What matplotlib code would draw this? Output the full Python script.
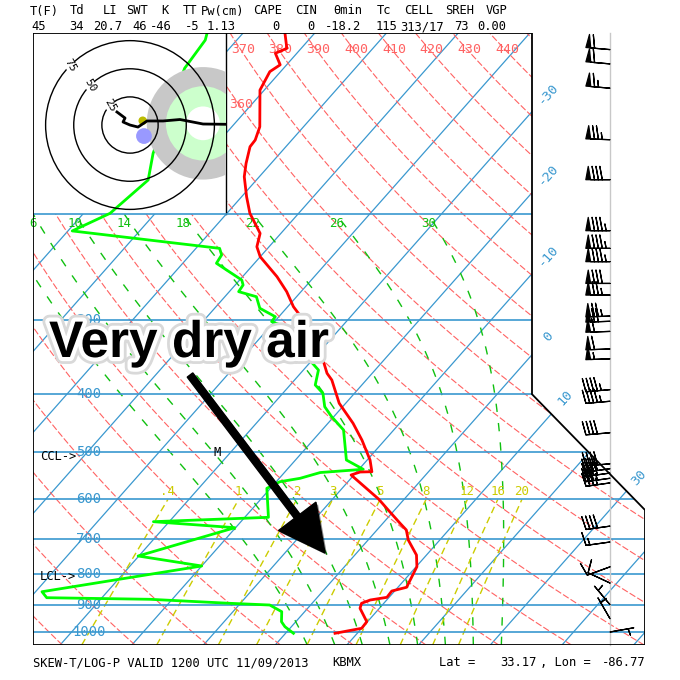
import numpy as np
import matplotlib
matplotlib.use("Agg")
import matplotlib.pyplot as plt
from matplotlib.patches import Polygon, Rectangle, Circle, FancyArrow
import matplotlib.patheffects as pe

# ------------------------------------------------------------------ data
temp_p = [99.6, 105.5, 107.5, 112.4, 115.4, 123.9, 142.7, 150.2, 154.1, 164.3, 173.0,
          186.9, 199.2, 215.2, 226.6, 235.5, 254.3, 269.4, 285.5, 294.8, 322.1, 350.6,
          369.0, 378.7, 414.2, 447.4, 477.2, 515.4, 539.2, 539.8, 546.0, 599.0, 624.9,
          657.8, 675.0, 701.5, 743.3, 777.5, 841.7, 853.9, 874.9, 884.0, 895.3, 912.7,
          961.1, 985.8, 1005.0]
temp_c = [-74.1, -72.0, -73.0, -70.9, -71.5, -70.6, -66.1, -65.1, -65.0, -63.5, -62.1,
          -59.3, -56.8, -52.9, -51.7, -50.0, -45.2, -42.0, -39.2, -37.3, -32.7, -28.5,
          -26.3, -24.8, -20.9, -16.5, -13.2, -9.6, -7.9, -9.5, -10.4, -3.6, -0.9,
          2.4, 4.1, 5.6, 8.6, 10.1, 11.2, 9.6, 9.7, 7.7, 6.9, 7.3,
          9.9, 10.0, 6.9]

dwpt_p = [99.5, 102.2, 113.9, 158.1, 175.2, 199.2, 213.2, 228.0, 233.9, 241.5, 257.6,
          262.6, 269.4, 274.7, 287.2, 296.7, 302.4, 305.2, 364.4, 386.0, 398.6, 419.7,
          436.2, 459.1, 515.4, 534.2, 540.9, 553.1, 560.4, 574.8, 642.8, 653.7, 669.0,
          746.1, 775.4, 856.2, 876.2, 881.6, 895.3, 901.2, 924.7, 961.1, 979.8, 1005.0]
dwpt_c = [-85.0, -84.4, -83.8, -77.7, -75.1, -76.3, -79.4, -56.7, -55.6, -55.3, -49.7,
          -48.9, -48.7, -45.6, -43.7, -40.5, -40.4, -39.2, -27.9, -26.5, -24.4, -22.5,
          -20.3, -17.0, -12.9, -9.4, -15.0, -17.1, -19.5, -20.5, -16.7, -32.2, -20.1,
          -30.1, -20.0, -39.1, -37.7, -23.1, -11.5, -5.7, -3.2, -2.0, -0.9, 1.1]

wind_p = [106, 112, 123, 150, 175, 213, 228, 240, 261, 273, 296, 302, 314, 336, 349,
          393, 411, 464, 523, 533, 542, 553, 563, 665, 707, 778, 828, 900, 950, 1000]
wind_dir = [275, 275, 275, 272, 270, 270, 270, 270, 270, 270, 268, 268, 268, 268, 268,
            265, 265, 265, 265, 262, 262, 262, 262, 262, 262, 250, 295, 320, 330, 80]
wind_spd = [60, 60, 65, 75, 80, 85, 85, 85, 80, 75, 75, 70, 60, 60, 55,
            45, 45, 40, 40, 40, 40, 35, 35, 40, 15, 10, 10, 5, 5, 5]

hodo_u = [-11.6, -4.4, -6.2, 0.0, 7.1, 15.1, 29.3, 44.4, 64.9, 88.9]
hodo_v = [11.6, 6.2, 2.7, 0.0, -1.8, 3.6, 3.6, 4.9, 0.9, 0.6]
hodo_rings = [25, 50, 75]
storm_center = (64.9, 1.5)
storm_radii = [50, 33, 15]
mean_wind = (11.3, 3.8)
bunkers = (12.4, -9.8)

isobars = [1000, 900, 800, 700, 600, 500, 400, 300, 200]
isobar_labels = ["1000", "900", "800", "700", "600", "500", "400", "300"]
isotherms = list(range(-110, 51, 10))
isotherm_labels = [-30, -20, -10, 0, 10, 30]
dry_thetas = list(range(230, 461, 10))
dry_labels = [360, 370, 380, 390, 400, 410, 420, 430, 440]
moist_thetaw = [2, 6, 10, 14, 18, 22, 26, 30]
moist_labels = [6, 10, 14, 18, 22, 26, 30]
mix_ratios = [0.4, 1, 2, 3, 5, 8, 12, 16, 20]
mix_labels = [".4", "1", "2", "3", "5", "8", "12", "16", "20"]

hdr_names = ["T(F)", "Td", "LI", "SWT", "K", "TT", "Pw(cm)", "CAPE", "CIN", "θmin",
             "Tc", "CELL", "SREH", "VGP"]
hdr_values = ["45", "34", "20.7", "46", "-46", "-5", "1.13", "0", "0", "-18.2",
              "115", "313/17", "73", "0.00"]

# ------------------------------------------------------------------ geometry / style
W = H = 680.0
def fx(px): return px / W
def fy(py): return 1.0 - py / H

PX_PER_C = 7.17
PX_PER_LN = 259.5
X0_PX = 286.7           # pixel of 0 C at 1000 hPa
SKEW = 229.6 / PX_PER_C
XMIN = (33 - X0_PX) / PX_PER_C
XMAX = (645 - X0_PX) / PX_PER_C
XMID = (532 - X0_PX) / PX_PER_C
XBOX = (226 - X0_PX) / PX_PER_C
XWIND = (610 - X0_PX) / PX_PER_C
XPLAB = (89 - X0_PX) / PX_PER_C
PBOT = 1000 * np.exp(13 / PX_PER_LN)
PTOP = 1000 * np.exp(-599 / PX_PER_LN)
PDIAG = 1000 * np.exp(-122 / PX_PER_LN)

BLUE = "#3a98cf"
SALMON = "#ff6262"
MGREEN = "#10c010"
YEL = "#cccc00"
MONO = "DejaVu Sans Mono"

def skx(T, p):
    return np.asarray(T, float) + SKEW * np.log(1000.0 / np.asarray(p, float))

def mix_td(w, p):
    e = w * p / (622.0 + w)
    l = np.log(e / 6.112)
    return 243.5 * l / (17.67 - l)

Rd, Cp, Lv, eps = 287.04, 1005.7, 2.501e6, 0.622
def dT_dlnp(T, p):
    es = 6.112 * np.exp(17.67 * (T - 273.15) / (T - 29.65))
    rs = eps * es / (p - es)
    return (Rd * T + Lv * rs) / (Cp + Lv * Lv * rs * eps / (Rd * T * T))

def moist(tw, p_end, n=150):
    lnp = np.linspace(np.log(1000.0), np.log(p_end), n)
    T = np.empty(n); T[0] = tw + 273.15
    for i in range(n - 1):
        h = lnp[i + 1] - lnp[i]
        p0 = np.exp(lnp[i]); ph = np.exp(lnp[i] + h / 2); p1 = np.exp(lnp[i + 1])
        k1 = dT_dlnp(T[i], p0)
        k2 = dT_dlnp(T[i] + h / 2 * k1, ph)
        k3 = dT_dlnp(T[i] + h / 2 * k2, ph)
        k4 = dT_dlnp(T[i] + h * k3, p1)
        T[i + 1] = T[i] + h / 6 * (k1 + 2 * k2 + 2 * k3 + k4)
    return np.exp(lnp), T - 273.15

# ------------------------------------------------------------------ figure
fig = plt.figure(figsize=(6.8, 6.8), dpi=100)
fig.patch.set_facecolor("white")
ax = fig.add_axes([fx(33), fy(645), 612 / W, 612 / H])
ax.set_yscale("log")
ax.set_xlim(XMIN, XMAX)
ax.set_ylim(PBOT, PTOP)
ax.axis("off")

frame = Polygon([(XMIN, PBOT), (XMAX, PBOT), (XMAX, PDIAG), (XMID, 400), (XMID, PTOP),
                 (XMIN, PTOP)], closed=True, fill=False, edgecolor="black", lw=1.3,
                zorder=10)
ax.add_patch(frame)

def clipped(lines):
    for l in lines:
        l.set_clip_path(frame)

# isotherms
for T in isotherms:
    pp = np.array([PBOT, PTOP])
    clipped(ax.plot(skx(T, pp), pp, color=BLUE, lw=0.9, zorder=1))
# dry adiabats
for th in dry_thetas:
    pp = np.geomspace(PBOT, PTOP, 120)
    tt = th * (pp / 1000.0) ** 0.2857 - 273.15
    clipped(ax.plot(skx(tt, pp), pp, color=SALMON, lw=0.8, ls=(0, (6, 2)), zorder=1))
# moist adiabats
for tw in moist_thetaw:
    pu, tu = moist(tw, 200.0)
    pd, td = moist(tw, PBOT, 20)
    pp = np.concatenate([pd[::-1], pu[1:]])
    tt = np.concatenate([td[::-1], tu[1:]])
    clipped(ax.plot(skx(tt, pp), pp, color=MGREEN, lw=1.0, ls=(0, (6, 8)), zorder=1))
    if tw in moist_labels:
        ax.text(skx(tu[-1], 200.0), 207, str(tw), color=MGREEN, fontsize=9,
                family=MONO, ha="center", va="center", zorder=3)
# mixing ratio lines
for w, lab in zip(mix_ratios, mix_labels):
    pp = np.geomspace(PBOT, 600.0, 40)
    clipped(ax.plot(skx(mix_td(w, pp), pp), pp, color=YEL, lw=1.0, ls=(0, (5, 3)),
                    zorder=1))
    ax.text(skx(mix_td(w, 600.0), 600.0), 583, lab, color=YEL, fontsize=9, family=MONO,
            ha="center", va="center", zorder=3)

# white hodograph box over the grid
ax.add_patch(Rectangle((XMIN, PTOP), XBOX - XMIN, 200 - PTOP, facecolor="white",
                       edgecolor="none", zorder=2))
ax.plot([XBOX, XBOX], [200, PTOP], color="black", lw=1.0, zorder=2.2)

# isobars
for p in isobars:
    clipped(ax.plot([XMIN, XMAX], [p, p], color=BLUE, lw=1.2, zorder=2.5))
for p, lab in zip(isobars, isobar_labels):
    ax.text(XPLAB, p, lab, color=BLUE, fontsize=10, family=MONO, ha="center",
            va="center", zorder=3)

# dry adiabat labels
for th in dry_labels:
    pl = 131.0 if th == 360 else 106.0
    tl = th * (pl / 1000.0) ** 0.2857 - 273.15
    ax.text(skx(tl, pl) + 0.3, pl, str(th), color=SALMON, fontsize=9.5, family=MONO,
            ha="center", va="center", zorder=3)

# isotherm labels (outside right border)
iso_lab_p = [125.5, 171.5, 234.5, 320.4, 406.0, 551.0]
for T, pl in zip(isotherm_labels, iso_lab_p):
    ax.text(skx(T, pl), pl, str(T), color=BLUE, fontsize=9.5, family=MONO,
            rotation=48, ha="center", va="center", zorder=3, clip_on=False)

# profiles
ax.plot(skx(dwpt_c, dwpt_p), dwpt_p, color="#00ff00", lw=2.0, zorder=4)
ax.plot(skx(temp_c, temp_p), temp_p, color="#ff0000", lw=2.0, zorder=4)

# wind barbs
ax.plot([XWIND, XWIND], [PBOT, PTOP], color="#c8c8c8", lw=1.0, zorder=3, clip_on=False)
wd = np.radians(wind_dir)
u = -np.array(wind_spd) * np.sin(wd)
v = -np.array(wind_spd) * np.cos(wd)
ax.barbs(np.full(len(wind_p), XWIND), wind_p, u, v, length=5.9, lw=0.9, color="black",
         sizes=dict(spacing=0.16, height=0.55, width=0.2), clip_on=False, zorder=5)

# text in chart
fig.text(fx(40), fy(457), "CCL->", family=MONO, fontsize=8.7, va="center")
fig.text(fx(40), fy(577), "LCL->", family=MONO, fontsize=8.7, va="center")
fig.text(fx(217), fy(453), "M", family=MONO, fontsize=8.7, va="center", ha="center")

# ------------------------------------------------------------------ hodograph
axh = fig.add_axes([fx(33), fy(213), 193 / W, 180 / H])
axh.set_xlim(-86.2, 85.3)
axh.set_ylim(-78.2, 81.8)
axh.axis("off")
for r, c in zip(storm_radii, ["#c8c8c8", "#ccffcc", "white"]):
    axh.add_patch(Circle(storm_center, r, facecolor=c, edgecolor="none", zorder=1))
for r in hodo_rings:
    axh.add_patch(Circle((0, 0), r, fill=False, edgecolor="black", lw=1.0, zorder=2))
    a = np.radians(135)
    axh.text(r * np.cos(a), r * np.sin(a), str(r), family=MONO, fontsize=8,
             rotation=-60, ha="center", va="center", zorder=3,
             bbox=dict(facecolor="white", edgecolor="none", pad=0.2))
axh.add_patch(Circle(bunkers, 7, facecolor="#9999ff", edgecolor="none", zorder=3))
axh.add_patch(Circle(mean_wind, 3.8, facecolor="#bbbb00", edgecolor="none", zorder=3))
axh.plot(hodo_u, hodo_v, color="black", lw=2.0, zorder=4)

# ------------------------------------------------------------------ header / footer
hdr_x = [44, 77, 110, 137, 165, 190, 223, 268, 306, 348, 384, 419, 460, 497]
val_x = [39, 76, 108, 140, 161, 192, 221, 276, 311, 343, 386, 422, 461, 492]
for n, xx in zip(hdr_names, hdr_x):
    fig.text(fx(xx), fy(11), n, family=MONO, fontsize=8.7, ha="center", va="center")
for s, xx in zip(hdr_values, val_x):
    fig.text(fx(xx), fy(27), s, family=MONO, fontsize=8.7, ha="center", va="center")

fig.text(fx(33), fy(663), "SKEW-T/LOG-P VALID 1200 UTC 11/09/2013", family=MONO,
         fontsize=8.7, va="center")
fig.text(fx(332), fy(663), "KBMX", family=MONO, fontsize=8.7, va="center")
fig.text(fx(439), fy(663), "Lat =", family=MONO, fontsize=8.7, va="center")
fig.text(fx(500), fy(663), "33.17", family=MONO, fontsize=8.7, va="center")
fig.text(fx(540), fy(663), ", Lon =", family=MONO, fontsize=8.7, va="center")
fig.text(fx(645), fy(663), "-86.77", family=MONO, fontsize=8.7, va="center", ha="right")

# ------------------------------------------------------------------ annotation
arrow = FancyArrow(fx(190), fy(375), (325 - 190) / W, -(553 - 375) / H, width=7 / W,
                   head_width=47 / W, head_length=46 / W, length_includes_head=True,
                   color="black", transform=fig.transFigure, zorder=20,
                   path_effects=[pe.SimplePatchShadow(offset=(1.5, -1.5), alpha=0.45),
                                 pe.Normal()])
fig.add_artist(arrow)
fig.text(fx(49), fy(357), "Very dry air", family=["Liberation Sans", "DejaVu Sans"],
         fontweight="bold", fontsize=37, va="baseline", ha="left", zorder=21,
         path_effects=[pe.Stroke(linewidth=10, foreground="#d9d9d9"),
                       pe.Stroke(linewidth=6, foreground="white"), pe.Normal()])

fig.savefig("out.png", dpi=100, facecolor="white")
